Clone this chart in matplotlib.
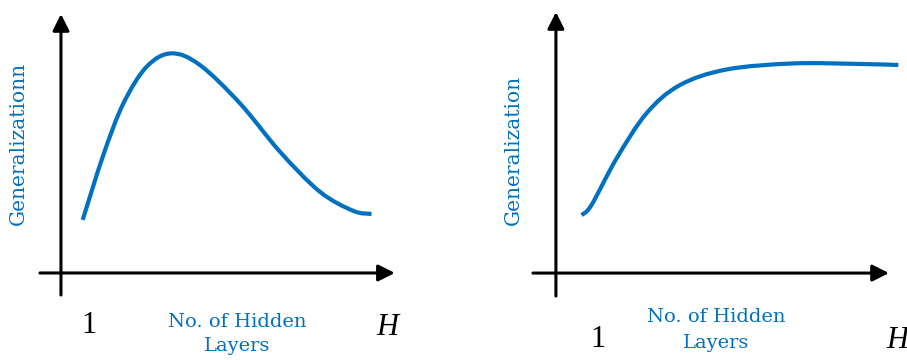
import numpy as np
import matplotlib.pyplot as plt
from matplotlib.path import Path
from matplotlib.patches import PathPatch

# Curve shapes (x: layers axis 0..10 = arrow tip, y: 0..1 = arrow top)
left_h = [0.65, 1.27, 1.87, 2.57, 3.31, 4.16, 5.36, 6.56, 7.75, 8.75, 9.30]
left_g = [0.205, 0.456, 0.655, 0.797, 0.848, 0.803, 0.655, 0.468, 0.314, 0.240, 0.228]

right_h = [0.77, 1.07, 1.82, 2.72, 3.72, 5.13, 7.13, 9.13, 10.28]
right_g = [0.222, 0.261, 0.439, 0.612, 0.720, 0.780, 0.803, 0.801, 0.797]

ylabels = ['Generalizationn', 'Generalization']
xlabel = ['No. of Hidden', 'Layers']
blue = '#0070C0'


def smooth_path(x, y):
    # bezier path through the points (catmull-rom tangents), so the line is not jagged
    pts = np.column_stack([x, y])
    verts = [pts[0]]
    codes = [Path.MOVETO]
    for i in range(len(pts) - 1):
        p0 = pts[i - 1] if i > 0 else pts[i]
        p3 = pts[i + 2] if i + 2 < len(pts) else pts[i + 1]
        p1, p2 = pts[i], pts[i + 1]
        verts += [p1 + (p2 - p0) / 6, p2 - (p3 - p1) / 6, p2]
        codes += [Path.CURVE4] * 3
    return Path(verts, codes)


fig = plt.figure(figsize=(9.07, 3.6), dpi=100)

# panel axes, limits chosen so the drawn axes sit where they do in the picture
panels = [
    dict(rect=[0, 0, 450 / 907, 1], xlim=(-1.826, 11.65), ylim=(-0.336, 1.054),
         xa=-0.63, ya=-0.085, h=left_h, g=left_g, ylab=ylabels[0],
         ylab_pos=(-1.29, 0.50), xlab_x=5.28, xlab_y=(-0.2085, -0.301),
         one=(0.84, -0.232), H=(9.76, -0.239)),
    dict(rect=[450 / 907, 0, 457 / 907, 1], xlim=(-3.18, 10.54), ylim=(-0.333, 1.046),
         xa=-0.69, ya=-0.088, h=right_h, g=right_g, ylab=ylabels[1],
         ylab_pos=(-1.29, 0.47), xlab_x=4.80, xlab_y=(-0.188, -0.287),
         one=(1.26, -0.284), H=(10.24, -0.287)),
]

for p in panels:
    ax = fig.add_axes(p['rect'])
    ax.set_xlim(*p['xlim'])
    ax.set_ylim(*p['ylim'])
    ax.axis('off')

    arrow = dict(arrowstyle='-|>,head_length=1.0,head_width=0.5', color='black',
                 lw=2.2, shrinkA=0, shrinkB=0)
    ax.annotate('', xy=(10, 0), xytext=(p['xa'], 0), arrowprops=arrow)
    ax.annotate('', xy=(0, 1.0), xytext=(0, p['ya']), arrowprops=arrow)

    ax.add_patch(PathPatch(smooth_path(p['h'], p['g']), facecolor='none',
                           edgecolor=blue, lw=3.0, capstyle='butt'))

    ax.text(*p['ylab_pos'], p['ylab'], rotation=90, color=blue, fontsize=14.5,
            family='DejaVu Serif', ha='center', va='center')
    for line, yy in zip(xlabel, p['xlab_y']):
        ax.text(p['xlab_x'], yy, line, color=blue, fontsize=14, family='DejaVu Serif',
                ha='center', va='baseline')
    ax.text(*p['one'], '1', color='black', fontsize=22, family='Liberation Serif',
            ha='center', va='baseline')
    ax.text(*p['H'], 'H', color='black', fontsize=22, family='Liberation Serif',
            style='italic', ha='center', va='baseline')

fig.savefig('out.png', dpi=100)
